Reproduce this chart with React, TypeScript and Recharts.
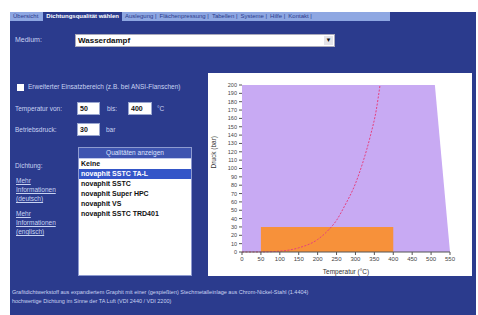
import { ComposedChart, Area, Line, XAxis, YAxis } from 'recharts';

// Achsen
const tempTicks = [0, 50, 100, 150, 200, 250, 300, 350, 400, 450, 500, 550];
const pressureTicks = [0, 10, 20, 30, 40, 50, 60, 70, 80, 90, 100, 110, 120, 130, 140, 150, 160, 170, 180, 190, 200];

// Einsatzgrenze der Dichtung (lila Fläche)
const envelopeTemp = [0, 510, 550];
const envelopePressure = [200, 200, 0];

// Sattdampfkurve (rot gestrichelt)
const satTemp = [0, 50, 100, 150, 200, 230, 250, 270, 300, 320, 340, 355, 365];
const satPressure = [0, 0.1, 1, 5, 15, 27, 38, 54, 82, 108, 140, 170, 200];

// Betriebspunkt (orange)
const opTemp = [50, 400];
const opPressure = [30, 30];

const tabs = ['Auslegung', 'Flächenpressung', 'Tabellen', 'Systeme', 'Hilfe', 'Kontakt'];
const qualities = ['novaphit SSTC TA-L', 'novaphit SSTC', 'novaphit Super HPC', 'novaphit VS', 'novaphit SSTC TRD401'];

const envelopeData = envelopeTemp.map((t, i) => ({ t, p: envelopePressure[i] }));
const satData = satTemp.map((t, i) => ({ t, p: satPressure[i] }));
const opData = opTemp.map((t, i) => ({ t, p: opPressure[i] }));

const BLUE = '#2b3b8d';
const LABEL = '#c9d3f2';

const abs = (x: number, y: number, extra: React.CSSProperties = {}): React.CSSProperties => ({
    position: 'absolute', left: x, top: y, ...extra,
});

function Input({ x, y, w, value }: { x: number; y: number; w: number; value: string }) {
    return (
        <div style={abs(x, y, {
            width: w, height: 13, background: '#fff', border: '1px solid #9aa7d0', boxSizing: 'border-box',
            fontSize: 7, fontWeight: 'bold', color: '#111', lineHeight: '11px', paddingLeft: 2,
        })}>{value}</div>
    );
}

function Chart() {
    return (
        <ComposedChart width={264} height={203} margin={{ top: 12, right: 22, bottom: 0, left: 0 }}>
            <XAxis
                type="number"
                dataKey="t"
                domain={[0, 550]}
                ticks={tempTicks}
                allowDataOverflow
                height={24}
                tick={{ fontSize: 6, fill: '#444' }}
                tickSize={3}
                stroke="#555"
                label={{ value: 'Temperatur (°C)', position: 'insideBottom', offset: 2, fontSize: 6.5, fill: '#333' }}
            />
            <YAxis
                type="number"
                dataKey="p"
                domain={[0, 200]}
                ticks={pressureTicks}
                interval={0}
                width={34}
                axisLine={false}
                tick={{ fontSize: 5.5, fill: '#444' }}
                tickSize={3}
                stroke="#555"
                label={{ value: 'Druck (bar)', angle: -90, position: 'insideLeft', offset: 6, fontSize: 6.5, fill: '#333' }}
            />
            <Area data={envelopeData} dataKey="p" type="linear" fill="#c8aaf3" fillOpacity={1} stroke="none" isAnimationActive={false} />
            <Area data={opData} dataKey="p" type="linear" fill="#f7913a" fillOpacity={1} stroke="none" isAnimationActive={false} />
            <Line data={satData} dataKey="p" type="monotone" stroke="#e5407e" strokeWidth={1} strokeDasharray="2 1.5" dot={false} isAnimationActive={false} />
        </ComposedChart>
    );
}

export default function App() {
    return (
        <div style={{ position: 'fixed', left: 0, top: 0, width: 478, height: 315, background: '#fff', fontFamily: 'Liberation Sans, Arial, sans-serif', overflow: 'hidden' }}>
            <div style={abs(10, 12, { width: 466, height: 303, background: BLUE })} />

            {/* Reiter */}
            <div style={abs(10, 12, { width: 380, height: 9, background: '#8ea7e2', fontSize: 6, lineHeight: '9px', color: '#2b3b8d', whiteSpace: 'nowrap' })}>
                <span style={{ paddingLeft: 3 }}>Übersicht</span>
                <span style={{ display: 'inline-block', background: BLUE, color: '#fff', fontWeight: 'bold', padding: '0 3px', marginLeft: 5 }}>Dichtungsqualität wählen</span>
                {tabs.map((t) => (
                    <span key={t} style={{ paddingLeft: 3 }}>{t} |</span>
                ))}
            </div>

            <div style={abs(15, 36, { fontSize: 7, color: LABEL })}>Medium:</div>
            <div style={abs(75, 34, {
                width: 260, height: 13, background: '#fff', border: '1px solid #aab', boxSizing: 'border-box',
                fontSize: 8, fontWeight: 'bold', lineHeight: '11px', paddingLeft: 2, color: '#111',
            })}>
                Wasserdampf
                <div style={abs(248, 1, { width: 9, height: 9, background: '#e4e4ea', fontSize: 6, lineHeight: '9px', textAlign: 'center' })}>▼</div>
            </div>

            <div style={abs(17, 84, { width: 7, height: 7, background: '#fff' })} />
            <div style={abs(28, 83, { fontSize: 6.5, color: LABEL, whiteSpace: 'nowrap' })}>Erweiterter Einsatzbereich (z.B. bei ANSI-Flanschen)</div>

            <div style={abs(15, 105, { fontSize: 6.5, color: LABEL })}>Temperatur von:</div>
            <Input x={77} y={102} w={23} value="50" />
            <div style={abs(107, 105, { fontSize: 6.5, color: LABEL })}>bis:</div>
            <Input x={128} y={102} w={24} value="400" />
            <div style={abs(157, 105, { fontSize: 6.5, color: LABEL })}>°C</div>

            <div style={abs(15, 126, { fontSize: 6.5, color: LABEL })}>Betriebsdruck:</div>
            <Input x={77} y={123} w={23} value="30" />
            <div style={abs(106, 126, { fontSize: 6.5, color: LABEL })}>bar</div>

            <div style={abs(15, 162, { fontSize: 6.5, color: LABEL })}>Dichtung:</div>
            <div style={abs(16, 176, { width: 50, fontSize: 6.5, lineHeight: '9px', color: LABEL, textDecoration: 'underline' })}>Mehr Informationen (deutsch)</div>
            <div style={abs(16, 209, { width: 50, fontSize: 6.5, lineHeight: '9px', color: LABEL, textDecoration: 'underline' })}>Mehr Informationen (englisch)</div>

            {/* Auswahlliste */}
            <div style={abs(78, 147, { width: 114, height: 129, background: '#fff', border: '1px solid #8e9bd0', boxSizing: 'border-box' })}>
                <div style={{ height: 10, background: '#3e54b0', color: '#dfe6ff', fontSize: 6.5, lineHeight: '10px', textAlign: 'center', borderBottom: '1px solid #c0c8ec' }}>Qualitäten anzeigen</div>
                <div style={{ fontSize: 7, fontWeight: 'bold', lineHeight: '10px', paddingLeft: 2, color: '#111' }}>Keine</div>
                {qualities.map((q, i) => (
                    <div key={q} style={{
                        fontSize: 7, fontWeight: 'bold', lineHeight: '10px', paddingLeft: 2,
                        background: i === 0 ? '#3456c8' : 'transparent', color: i === 0 ? '#fff' : '#111',
                    }}>{q}</div>
                ))}
            </div>

            {/* Diagramm */}
            <div style={abs(208, 73, { width: 264, height: 203, background: '#fff' })}>
                <Chart />
            </div>

            <div style={abs(12, 288, { fontSize: 5.5, color: LABEL, whiteSpace: 'nowrap', lineHeight: '9px' })}>
                Grafitdichtwerkstoff aus expandiertem Graphit mit einer (gespießten) Stechmetalleinlage aus Chrom-Nickel-Stahl (1.4404)
                <br />
                hochwertige Dichtung im Sinne der TA Luft (VDI 2440 / VDI 2200)
            </div>
        </div>
    );
}
